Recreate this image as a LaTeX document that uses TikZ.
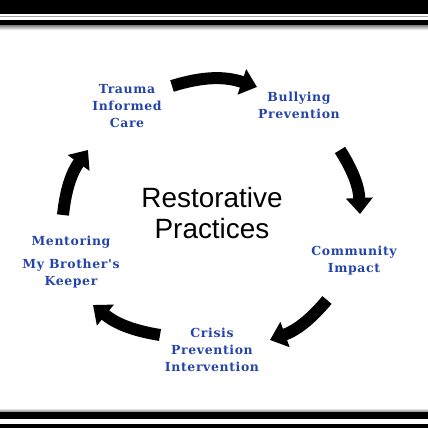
\documentclass[tikz,border=0pt]{standalone}
\usepackage{fontspec}
\setsansfont{Liberation Sans}
\newfontfamily\vocefont[LetterSpace=5]{DejaVu Serif}
\usepackage{xcolor}
\usetikzlibrary{arrows.meta}
\definecolor{blu}{HTML}{2544A8}

\begin{document}
\begin{tikzpicture}[x=1bp, y=1bp,
        voce/.style={font=\vocefont\bfseries\fontsize{12.5}{17}\selectfont,
            text=blu, align=center, inner sep=0pt},
        freccia/.style={line width=12bp, -{Triangle[length=16bp,width=26bp]}}]
        \useasboundingbox (0,0) rectangle (428,428);

        % Cornice (bande nere sopra e sotto)
        \fill[black] (0,414) rectangle (428,428);
        \draw[black!35, line width=0.8bp] (0,411.5) -- (428,411.5);
        \fill[black] (0,402.5) rectangle (428,408);
        \shade[top color=black!45, bottom color=white] (0,398) rectangle (428,402.5);
        \shade[top color=white, bottom color=black!45] (0,16.3) rectangle (428,20);
        \fill[black] (0,9) rectangle (428,16.3);
        \fill[black] (0,0) rectangle (428,4);

        % Titolo centrale
        \node[font=\sffamily\fontsize{28}{31}\selectfont, align=center, inner sep=0pt]
            (titolo) at (212,215) {Restorative\\Practices};

        % Voci del ciclo
        \node[voce] (trauma)    at (127,322)   {Trauma\\Informed\\Care};
        \node[voce] (bullismo)  at (299,322.5) {Bullying\\Prevention};
        \node[voce] (comunita)  at (354,167)   {Community\\Impact};
        \node[voce] (crisi)     at (212,78)    {Crisis\\Prevention\\Intervention};
        \node[voce] (mentoring) at (71,166)    {Mentoring\\[6bp]My Brother's\\Keeper};

        % Estremi delle frecce
        \coordinate (f1a) at (172,342);
        \coordinate (f1b) at (257,341);
        \coordinate (f2a) at (340,278);
        \coordinate (f2b) at (360,214);
        \coordinate (f3a) at (327,128);
        \coordinate (f3b) at (270,88);
        \coordinate (f4a) at (160,93);
        \coordinate (f4b) at (93,123);
        \coordinate (f5a) at (63,213);
        \coordinate (f5b) at (88,278);

        % Frecce (senso orario)
        \foreach \da/\a/\piega in {
                f1a/f1b/18,
                f2a/f2b/15,
                f3a/f3b/15,
                f4a/f4b/15,
                f5a/f5b/15}{
                \draw[freccia] (\da) to[bend left=\piega] (\a);
            }
    \end{tikzpicture}
\end{document}
